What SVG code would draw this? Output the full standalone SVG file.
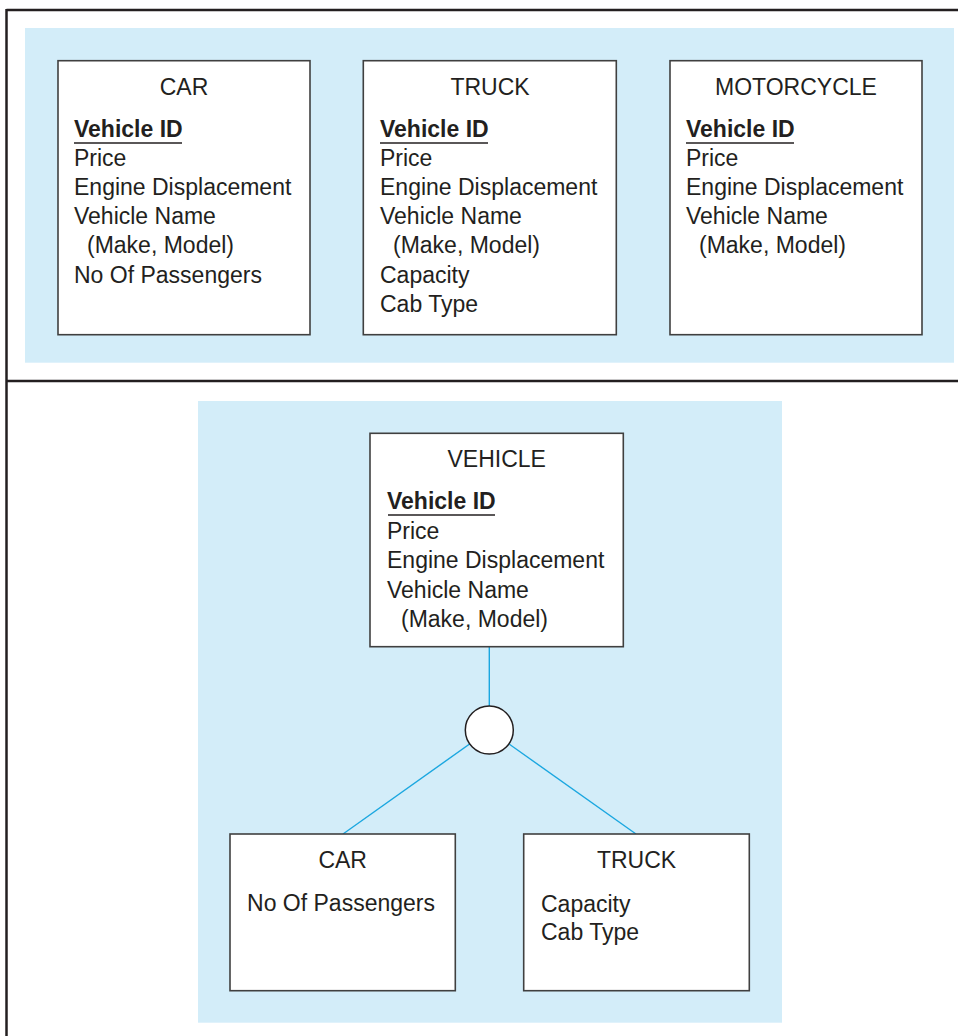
<svg xmlns="http://www.w3.org/2000/svg" width="958" height="1036" viewBox="0 0 958 1036">
<style>
.t{font-family:"Liberation Sans",Arial,Helvetica,sans-serif;font-size:23px;fill:#231f20}
.b{font-weight:bold}
.c{text-anchor:middle}
.box{fill:#ffffff;stroke:#404040;stroke-width:1.6}
.band{fill:#d3edf9}
.frame{stroke:#231f20;stroke-width:2.5;fill:none}
.ul{stroke:#231f20;stroke-width:1.6}
.conn{stroke:#1ba7e0;stroke-width:1.4;fill:none}
</style>
<rect width="958" height="1036" fill="#ffffff"/>
<g id="frame">
<line class="frame" x1="6.5" y1="10" x2="958" y2="10"/>
<line class="frame" x1="6.5" y1="9" x2="6.5" y2="1036"/>
<line class="frame" x1="6.5" y1="381" x2="958" y2="381"/>
</g>
<rect class="band" x="25" y="28" width="929" height="334.7"/>
<rect class="band" x="198" y="401" width="584" height="621.7"/>

<g id="top-car">
<rect class="box" x="58" y="60.7" width="252" height="274"/>
<text class="t c" x="184" y="95">CAR</text>
<text class="t b" x="74" y="137">Vehicle ID</text>
<line class="ul" x1="74" y1="143" x2="182" y2="143"/>
<text class="t" x="74" y="166">Price</text>
<text class="t" x="74" y="195">Engine Displacement</text>
<text class="t" x="74" y="224">Vehicle Name</text>
<text class="t" x="87" y="253">(Make, Model)</text>
<text class="t" x="74" y="283">No Of Passengers</text>
</g>

<g id="top-truck">
<rect class="box" x="363.3" y="60.7" width="253" height="274"/>
<text class="t c" x="490" y="95">TRUCK</text>
<text class="t b" x="380" y="137">Vehicle ID</text>
<line class="ul" x1="380" y1="143" x2="488" y2="143"/>
<text class="t" x="380" y="166">Price</text>
<text class="t" x="380" y="195">Engine Displacement</text>
<text class="t" x="380" y="224">Vehicle Name</text>
<text class="t" x="393" y="253">(Make, Model)</text>
<text class="t" x="380" y="283">Capacity</text>
<text class="t" x="380" y="312">Cab Type</text>
</g>

<g id="top-motorcycle">
<rect class="box" x="670" y="60.7" width="252" height="274"/>
<text class="t c" x="796" y="95">MOTORCYCLE</text>
<text class="t b" x="686" y="137">Vehicle ID</text>
<line class="ul" x1="686" y1="143" x2="794" y2="143"/>
<text class="t" x="686" y="166">Price</text>
<text class="t" x="686" y="195">Engine Displacement</text>
<text class="t" x="686" y="224">Vehicle Name</text>
<text class="t" x="699" y="253">(Make, Model)</text>
</g>

<g id="connectors">
<line class="conn" x1="489.3" y1="646.7" x2="489.3" y2="730"/>
<line class="conn" x1="489.3" y1="730" x2="343" y2="834"/>
<line class="conn" x1="489.3" y1="730" x2="636" y2="834"/>
</g>

<g id="vehicle">
<rect class="box" x="370" y="433.3" width="253.3" height="213.4"/>
<text class="t c" x="496.7" y="467">VEHICLE</text>
<text class="t b" x="387" y="509">Vehicle ID</text>
<line class="ul" x1="388" y1="515" x2="495" y2="515"/>
<text class="t" x="387" y="538.5">Price</text>
<text class="t" x="387" y="568">Engine Displacement</text>
<text class="t" x="387" y="597.5">Vehicle Name</text>
<text class="t" x="401" y="627">(Make, Model)</text>
</g>

<g id="disjoint-circle">
<circle cx="489.3" cy="730" r="24" fill="#ffffff" stroke="#231f20" stroke-width="1.5"/>
</g>

<g id="sub-car">
<rect class="box" x="230" y="834" width="225.3" height="156.7"/>
<text class="t c" x="342.7" y="868">CAR</text>
<text class="t c" x="341" y="911">No Of Passengers</text>
</g>

<g id="sub-truck">
<rect class="box" x="523.7" y="834" width="225.6" height="156.7"/>
<text class="t c" x="636.5" y="868">TRUCK</text>
<text class="t" x="541" y="911.5">Capacity</text>
<text class="t" x="541" y="940">Cab Type</text>
</g>
</svg>
